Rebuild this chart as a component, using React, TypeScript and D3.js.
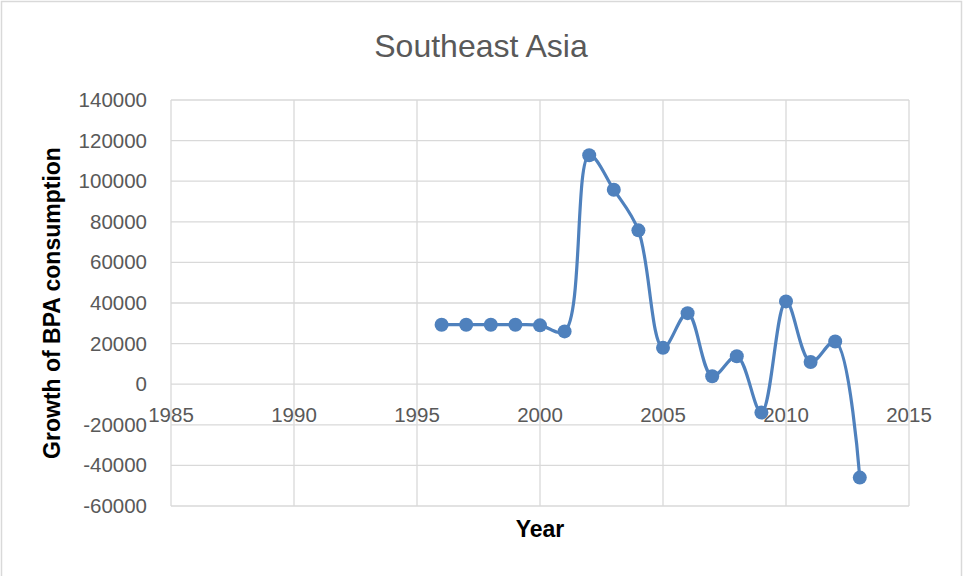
import React, { useEffect, useRef } from "react";
import * as d3 from "d3";

const years = [1996, 1997, 1998, 1999, 2000, 2001, 2002, 2003, 2004, 2005, 2006, 2007, 2008, 2009, 2010, 2011, 2012, 2013];
const growth = [29300, 29300, 29300, 29300, 29000, 26000, 112800, 95800, 75800, 17900, 35000, 3900, 13800, -14000, 40800, 10900, 21000, -46000];
const xTicks = [1985, 1990, 1995, 2000, 2005, 2010, 2015];
const yTicks = [-60000, -40000, -20000, 0, 20000, 40000, 60000, 80000, 100000, 120000, 140000];

const W = 963;
const H = 576;
const font = "'Liberation Sans', Arial, sans-serif";
const textColor = "#595959";
const gridColor = "#d9d9d9";
const lineColor = "#4f81bd";

const App = () => {
    const svgRef = useRef(null);

    useEffect(() => {
        document.body.style.margin = "0";
        const svg = d3.select(svgRef.current);
        svg.selectAll("*").remove();

        const x = d3.scaleLinear().domain([1985, 2015]).range([171, 909]);
        const y = d3.scaleLinear().domain([-60000, 140000]).range([506, 100]);

        svg.append("rect")
            .attr("x", 1.5).attr("y", 1.5)
            .attr("width", W - 3).attr("height", H + 10)
            .attr("fill", "#fff")
            .attr("stroke", gridColor)
            .attr("stroke-width", 1.5);

        svg.append("text")
            .attr("x", 481).attr("y", 57)
            .attr("text-anchor", "middle")
            .attr("font-family", font)
            .attr("font-size", 32)
            .attr("fill", textColor)
            .text("Southeast Asia");

        const grid = svg.append("g");
        grid.selectAll(".hgrid")
            .data(yTicks)
            .enter()
            .append("line")
            .attr("x1", x(1985)).attr("x2", x(2015))
            .attr("y1", (d) => y(d)).attr("y2", (d) => y(d))
            .attr("stroke", gridColor)
            .attr("stroke-width", 1.3);
        grid.selectAll(".vgrid")
            .data(xTicks)
            .enter()
            .append("line")
            .attr("x1", (d) => x(d)).attr("x2", (d) => x(d))
            .attr("y1", y(140000)).attr("y2", y(-60000))
            .attr("stroke", gridColor)
            .attr("stroke-width", 1.3);

        svg.selectAll(".ylab")
            .data(yTicks)
            .enter()
            .append("text")
            .attr("x", 147)
            .attr("y", (d) => y(d) + 7)
            .attr("text-anchor", "end")
            .attr("font-family", font)
            .attr("font-size", 20.5)
            .attr("fill", textColor)
            .text((d) => String(d));

        svg.selectAll(".xlab")
            .data(xTicks)
            .enter()
            .append("text")
            .attr("x", (d) => x(d))
            .attr("y", y(0) + 38)
            .attr("text-anchor", "middle")
            .attr("font-family", font)
            .attr("font-size", 20.5)
            .attr("fill", textColor)
            .text((d) => String(d));

        svg.append("text")
            .attr("transform", `translate(60, ${(100 + 506) / 2}) rotate(-90)`)
            .attr("text-anchor", "middle")
            .attr("font-family", font)
            .attr("font-size", 23)
            .attr("font-weight", "bold")
            .attr("fill", "#000")
            .text("Growth of BPA consumption");

        svg.append("text")
            .attr("x", 540).attr("y", 537)
            .attr("text-anchor", "middle")
            .attr("font-family", font)
            .attr("font-size", 23)
            .attr("font-weight", "bold")
            .attr("fill", "#000")
            .text("Year");

        const pts: [number, number][] = years.map((yr, i) => [yr, growth[i]]);
        const line = d3.line<[number, number]>()
            .x((d) => x(d[0]))
            .y((d) => y(d[1]))
            .curve(d3.curveCatmullRom.alpha(0.5));

        svg.append("path")
            .datum(pts)
            .attr("d", line)
            .attr("fill", "none")
            .attr("stroke", lineColor)
            .attr("stroke-width", 3.2)
            .attr("stroke-linejoin", "round");

        svg.selectAll(".dot")
            .data(pts)
            .enter()
            .append("circle")
            .attr("cx", (d) => x(d[0]))
            .attr("cy", (d) => y(d[1]))
            .attr("r", 7)
            .attr("fill", lineColor);
    }, []);

    return (
        <svg ref={svgRef} width={W} height={H} style={{ display: "block" }}></svg>
    );
};

export default App;
